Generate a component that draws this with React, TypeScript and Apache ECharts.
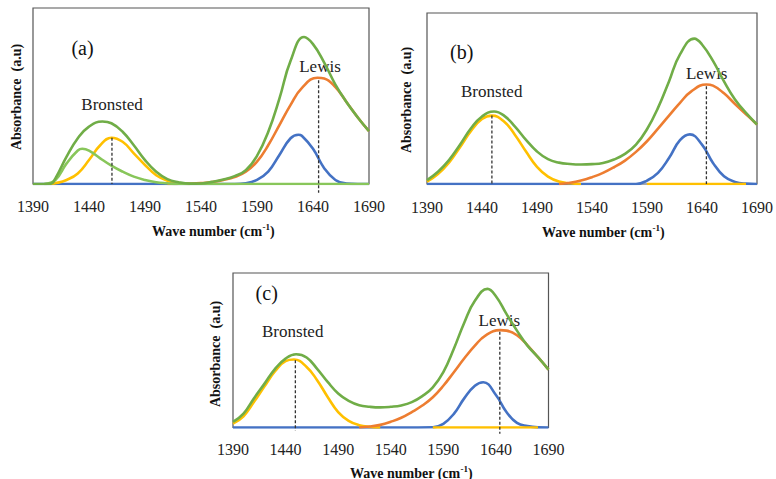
import React, { useEffect, useRef } from "react";
import * as echarts from "echarts";

// ---- tick labels ----
const WAVE_TICKS = [1390, 1440, 1490, 1540, 1590, 1640, 1690];

// ---- panel (a) ----
const aTotal = [
  [1390, 0], [1400, 0], [1406, 0.002], [1410, 0.032], [1420, 0.155], [1430, 0.26], [1440, 0.326],
  [1452, 0.355], [1460, 0.345], [1470, 0.297], [1480, 0.22], [1490, 0.136], [1500, 0.07],
  [1510, 0.028], [1520, 0.01], [1530, 0.002], [1540, 0.003], [1550, 0.012], [1560, 0.025],
  [1570, 0.045], [1580, 0.078], [1590, 0.16], [1600, 0.295], [1610, 0.485], [1620, 0.7],
  [1632, 0.835], [1640, 0.795], [1650, 0.69], [1660, 0.565], [1670, 0.465], [1680, 0.378], [1690, 0.3],
];
const aLight = [
  [1400, 0], [1410, 0.023], [1420, 0.117], [1430, 0.19], [1434, 0.2], [1440, 0.19], [1450, 0.146],
  [1460, 0.104], [1470, 0.07], [1480, 0.042], [1490, 0.023], [1500, 0.01], [1510, 0.004],
  [1520, 0], [1540, 0], [1560, 0], [1580, 0], [1600, 0], [1620, 0], [1640, 0], [1660, 0], [1690, 0],
];
const aYellow = [
  [1405, 0], [1410, 0.004], [1420, 0.023], [1430, 0.06], [1440, 0.136], [1450, 0.22], [1460, 0.263],
  [1470, 0.24], [1480, 0.174], [1490, 0.108], [1500, 0.05], [1510, 0.019], [1520, 0.004], [1530, 0],
];
const aOrange = [
  [1510, 0], [1520, 0.001], [1530, 0.002], [1540, 0.005], [1550, 0.011], [1560, 0.023], [1570, 0.04],
  [1580, 0.07], [1590, 0.127], [1600, 0.22], [1610, 0.335], [1620, 0.45], [1630, 0.545],
  [1644, 0.604], [1650, 0.6], [1660, 0.55], [1670, 0.465], [1680, 0.378], [1690, 0.3],
];
const aBlue = [
  [1390, 0], [1450, 0], [1500, 0], [1550, 0], [1570, 0], [1580, 0.004], [1590, 0.023], [1600, 0.07],
  [1610, 0.165], [1620, 0.26], [1627, 0.28], [1630, 0.274], [1640, 0.2], [1650, 0.09],
  [1660, 0.023], [1670, 0.002], [1680, 0], [1690, 0],
];
const aDashes = [
  [[1460.5, 0.263], [1460.5, 0]],
  [[1645, 0.59], [1645, -0.05]],
];

// ---- panel (b) ----
const bTotal = [
  [1390, 0.023], [1400, 0.072], [1410, 0.14], [1420, 0.23], [1430, 0.326], [1440, 0.395],
  [1451, 0.424], [1460, 0.4], [1470, 0.336], [1480, 0.258], [1490, 0.19], [1500, 0.145],
  [1510, 0.125], [1520, 0.117], [1530, 0.114], [1540, 0.116], [1550, 0.123], [1560, 0.143],
  [1570, 0.176], [1580, 0.23], [1590, 0.32], [1600, 0.445], [1610, 0.6], [1620, 0.758],
  [1633, 0.85], [1640, 0.816], [1650, 0.72], [1660, 0.6], [1670, 0.494], [1680, 0.416], [1690, 0.348],
];
const bYellow = [
  [1390, 0.014], [1400, 0.059], [1410, 0.125], [1420, 0.215], [1430, 0.31], [1440, 0.38],
  [1449, 0.4], [1460, 0.365], [1470, 0.287], [1480, 0.19], [1490, 0.1], [1500, 0.043],
  [1510, 0.014], [1520, 0.004], [1530, 0], [1560, null], [1590, 0], [1630, 0], [1680, 0],
];
const bOrange = [
  [1510, 0], [1520, 0.007], [1530, 0.02], [1540, 0.04], [1550, 0.065], [1560, 0.098], [1570, 0.137],
  [1580, 0.188], [1590, 0.25], [1600, 0.324], [1610, 0.4], [1620, 0.475], [1630, 0.54],
  [1644, 0.582], [1650, 0.575], [1660, 0.53], [1670, 0.468], [1680, 0.408], [1690, 0.348],
];
const bBlue = [
  [1390, 0], [1450, 0], [1500, 0], [1550, 0], [1580, 0], [1590, 0.02], [1600, 0.065], [1610, 0.152],
  [1620, 0.256], [1629, 0.29], [1640, 0.23], [1650, 0.123], [1660, 0.045], [1670, 0.012],
  [1680, 0.002], [1690, 0],
];
const bDashes = [
  [[1449, 0.4], [1449, 0]],
  [[1644, 0.572], [1644, 0]],
];

// ---- panel (c) ----
const cTotal = [
  [1390, 0.037], [1400, 0.09], [1410, 0.19], [1420, 0.284], [1430, 0.38], [1440, 0.446],
  [1450, 0.474], [1460, 0.453], [1470, 0.38], [1480, 0.295], [1490, 0.22], [1500, 0.172],
  [1510, 0.144], [1520, 0.134], [1530, 0.13], [1540, 0.134], [1550, 0.143], [1560, 0.164],
  [1570, 0.203], [1580, 0.26], [1590, 0.358], [1600, 0.51], [1610, 0.68], [1620, 0.82],
  [1632, 0.897], [1640, 0.85], [1650, 0.735], [1660, 0.627], [1670, 0.53], [1680, 0.455], [1690, 0.375],
];
const cYellow = [
  [1390, 0.026], [1400, 0.073], [1410, 0.166], [1420, 0.267], [1430, 0.364], [1440, 0.43],
  [1448, 0.44], [1460, 0.392], [1470, 0.306], [1480, 0.198], [1490, 0.1], [1500, 0.043],
  [1510, 0.015], [1520, 0.004], [1530, 0], [1555, null], [1580, 0], [1630, 0], [1680, 0],
];
const cOrange = [
  [1510, 0], [1520, 0.006], [1530, 0.017], [1540, 0.037], [1550, 0.063], [1560, 0.1], [1570, 0.142],
  [1580, 0.196], [1590, 0.27], [1600, 0.358], [1610, 0.448], [1620, 0.53], [1630, 0.595],
  [1644, 0.63], [1650, 0.627], [1660, 0.597], [1670, 0.532], [1680, 0.455], [1690, 0.375],
];
const cBlue = [
  [1390, 0], [1450, 0], [1500, 0], [1550, 0], [1580, 0.002], [1590, 0.024], [1600, 0.088],
  [1610, 0.19], [1620, 0.27], [1628, 0.293], [1640, 0.21], [1650, 0.1], [1660, 0.03],
  [1670, 0.009], [1680, 0.001], [1690, 0],
];
const cDashes = [
  [[1449.3, 0.435], [1449.3, -0.02]],
  [[1643.7, 0.62], [1643.7, -0.04]],
];

const PANEL_NAMES = ["(a)", "(b)", "(c)"];
const X_TITLE = "Wave number";
const Y_TITLE = "Absorbance  (a.u)";

const COLORS = {
  total: "#70AD47",
  light: "#88C65A",
  yellow: "#FFC000",
  orange: "#ED7D31",
  blue: "#4472C4",
  dash: "#333333",
};

const SERIF = "Liberation Serif";

export default function App() {
  const ref = useRef<HTMLDivElement>(null);

  useEffect(() => {
    if (!ref.current) return;
    const chart = echarts.init(ref.current, undefined, { renderer: "svg" });

    const grids = [
      { left: 33, top: 8, width: 336, height: 176 },
      { left: 427, top: 13, width: 331, height: 171 },
      { left: 233, top: 273, width: 315.5, height: 154.5 },
    ];
    const labelMargins = [14, 15, 14];

    const panels = [
      { total: aTotal, light: aLight, yellow: aYellow, orange: aOrange, blue: aBlue, dashes: aDashes },
      { total: bTotal, light: null, yellow: bYellow, orange: bOrange, blue: bBlue, dashes: bDashes },
      { total: cTotal, light: null, yellow: cYellow, orange: cOrange, blue: cBlue, dashes: cDashes },
    ];

    const series: any[] = [];
    const lineOf = (data: any, color: string, idx: number) => ({
      type: "line",
      xAxisIndex: idx,
      yAxisIndex: idx,
      data,
      smooth: 0.45,
      symbol: "none",
      lineStyle: { color, width: 2.6 },
      silent: true,
    });
    panels.forEach((p, i) => {
      series.push(lineOf(p.blue, COLORS.blue, i));
      series.push(lineOf(p.yellow, COLORS.yellow, i));
      series.push(lineOf(p.orange, COLORS.orange, i));
      if (p.light) series.push(lineOf(p.light, COLORS.light, i));
      series.push(lineOf(p.total, COLORS.total, i));
      p.dashes.forEach((d) => {
        series.push({
          type: "line",
          xAxisIndex: i,
          yAxisIndex: i,
          data: d,
          symbol: "none",
          clip: false,
          z: 5,
          lineStyle: { color: COLORS.dash, width: 1.3, type: [3, 2] },
          silent: true,
        });
      });
    });

    const xTitlePos = [
      [152, 231],
      [542, 232],
      [350, 473],
    ];
    const yTitlePos = [
      [16, 97],
      [406, 100],
      [215, 354],
    ];
    const namePos = [
      [82.5, 48],
      [461.7, 51.7],
      [266.7, 293.3],
    ];
    const bronstedPos = [
      [112, 104],
      [491.7, 91.7],
      [292.7, 331.7],
    ];
    const lewisPos = [
      [320, 66],
      [706.7, 73.3],
      [499.3, 320],
    ];

    const graphic: any[] = [];
    for (let i = 0; i < 3; i++) {
      graphic.push({
        type: "text",
        x: xTitlePos[i][0],
        y: xTitlePos[i][1],
        silent: true,
        style: {
          text: `{b|${X_TITLE} (cm}{s|-1}{b|)}`,
          fontFamily: SERIF,
          align: "left",
          verticalAlign: "middle",
          rich: {
            b: { fontSize: 14, fontWeight: "bold", fontFamily: SERIF, fill: "#111", lineHeight: 18 },
            s: { fontSize: 9, fontWeight: "bold", fontFamily: SERIF, fill: "#111", lineHeight: 18, verticalAlign: "top" },
          },
        },
      });
      graphic.push({
        type: "text",
        x: yTitlePos[i][0],
        y: yTitlePos[i][1],
        rotation: Math.PI / 2,
        silent: true,
        style: {
          text: Y_TITLE,
          fontSize: 14,
          fontWeight: "bold",
          fontFamily: SERIF,
          fill: "#111",
          align: "center",
          verticalAlign: "middle",
        },
      });
      graphic.push({
        type: "text",
        x: namePos[i][0],
        y: namePos[i][1],
        silent: true,
        style: {
          text: PANEL_NAMES[i],
          fontSize: 20,
          fontFamily: SERIF,
          fill: "#111",
          align: "center",
          verticalAlign: "middle",
        },
      });
      graphic.push({
        type: "text",
        x: bronstedPos[i][0],
        y: bronstedPos[i][1],
        silent: true,
        style: {
          text: "Bronsted",
          fontSize: 17,
          fontFamily: SERIF,
          fill: "#222",
          align: "center",
          verticalAlign: "middle",
        },
      });
      graphic.push({
        type: "text",
        x: lewisPos[i][0],
        y: lewisPos[i][1],
        silent: true,
        style: {
          text: "Lewis",
          fontSize: 17,
          fontFamily: SERIF,
          fill: "#222",
          align: "center",
          verticalAlign: "middle",
        },
      });
    }

    chart.setOption({
      animation: false,
      backgroundColor: "#ffffff",
      textStyle: { fontFamily: SERIF },
      grid: grids.map((g) => ({
        ...g,
        show: true,
        borderColor: "#555555",
        borderWidth: 1.2,
        backgroundColor: "transparent",
        containLabel: false,
      })),
      xAxis: grids.map((_, i) => ({
        type: "value",
        gridIndex: i,
        min: WAVE_TICKS[0],
        max: WAVE_TICKS[WAVE_TICKS.length - 1],
        axisLine: { show: false },
        axisTick: { show: false },
        splitLine: { show: false },
        axisLabel: {
          customValues: WAVE_TICKS,
          formatter: (v: number) => String(v),
          fontSize: 16,
          fontFamily: SERIF,
          color: "#222",
          margin: labelMargins[i],
        },
      })),
      yAxis: grids.map((_, i) => ({
        type: "value",
        gridIndex: i,
        min: 0,
        max: 1,
        show: false,
        splitLine: { show: false },
      })),
      series,
      graphic,
    });

    return () => {
      chart.dispose();
    };
  }, []);

  return (
    <div
      ref={ref}
      style={{ position: "absolute", left: 0, top: 0, width: 776, height: 479, background: "#fff" }}
    />
  );
}
